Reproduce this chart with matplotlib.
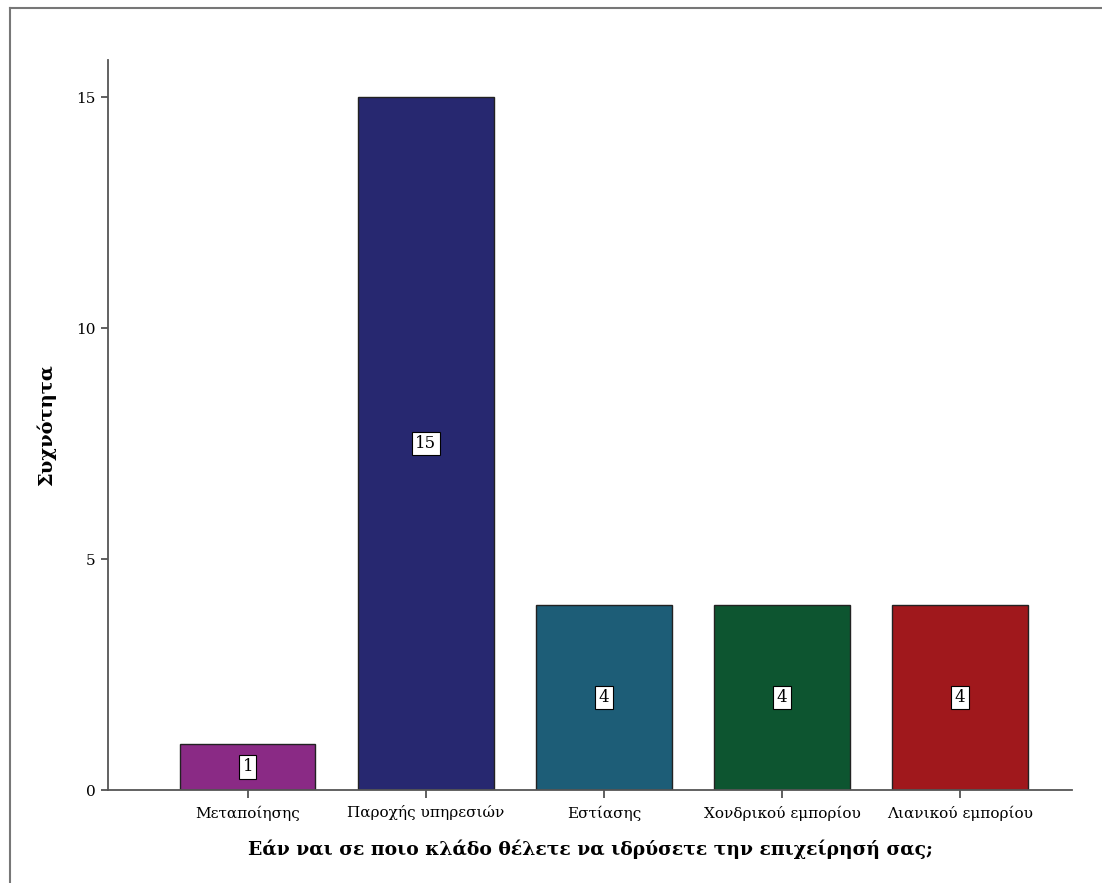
import matplotlib
matplotlib.use("Agg")
import matplotlib.pyplot as plt
from matplotlib.lines import Line2D

categories = ["Μεταποίησης", "Παροχής υπηρεσιών", "Εστίασης",
              "Χονδρικού εμπορίου", "Λιανικού εμπορίου"]
counts = [1, 15, 4, 4, 4]
colors = ["#8a2a85", "#272870", "#1d5d77", "#0d5530", "#a0181c"]

plt.rcParams["font.family"] = ["DejaVu Serif"]

fig = plt.figure(figsize=(11.02, 8.83), dpi=100)
ax = fig.add_axes([0.098, 0.1053, 0.875, 0.8267])

x = range(len(categories))
ax.bar(x, counts, width=0.76, color=colors, edgecolor="#222222", linewidth=1)

# value labels in white boxes at mid-height of each bar
for xi, c in zip(x, counts):
    ax.text(xi, c / 2, str(c), ha="center", va="center", fontsize=12,
            bbox=dict(boxstyle="square,pad=0.2", fc="white", ec="black", lw=0.8))

ax.set_xlim(-0.785, 4.63)
ax.set_ylim(0, 15.8)
ax.set_yticks([0, 5, 10, 15])
ax.set_xticks(list(x))
ax.set_xticklabels(categories, fontsize=11)
ax.tick_params(axis="y", labelsize=11, length=5, width=1.2, color="#444444", pad=4)
ax.tick_params(axis="x", length=6, width=1.2, color="#444444", pad=5)

for side in ["top", "right"]:
    ax.spines[side].set_visible(False)
for side in ["left", "bottom"]:
    ax.spines[side].set_color("#555555")
    ax.spines[side].set_linewidth(1.3)

ax.set_ylabel("Συχνότητα", fontsize=14, fontweight="bold", labelpad=14)
ax.set_xlabel("Εάν ναι σε ποιο κλάδο θέλετε να ιδρύσετε την επιχείρησή σας;",
              fontsize=13.5, fontweight="bold", labelpad=14)

# outer frame (only top and left edges are visible in the original)
fig.add_artist(Line2D([0.0095, 0.0095], [0, 0.9915], transform=fig.transFigure,
                      color="#777777", lw=1.5))
fig.add_artist(Line2D([0.0095, 1], [0.9915, 0.9915], transform=fig.transFigure,
                      color="#777777", lw=1.5))

fig.savefig("out.png", dpi=100)
